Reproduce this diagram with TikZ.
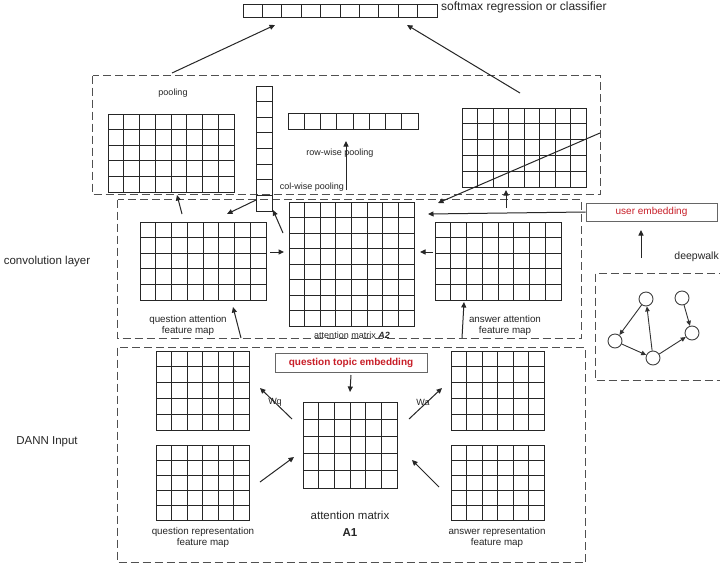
\documentclass[tikz,border=0pt]{standalone}
\usepackage{fontspec}
\setmainfont{Liberation Sans}
\usetikzlibrary{arrows.meta,calc}
\definecolor{embred}{RGB}{200,30,40}
\definecolor{dashgray}{RGB}{80,80,80}

\tikzset{
  cellline/.style={draw=black!85, line width=1.7pt, line cap=rect},
  dashbox/.style={draw=dashgray, line width=1.6pt, dash pattern=on 8pt off 4pt},
  arr/.style={draw=black!85, line width=1pt, -{Triangle[length=5.5pt,width=5pt]}},
  lbl/.style={font=\fontsize{9.8}{11}\selectfont, align=center, inner sep=0pt, text=black!85},
  poollbl/.style={font=\fontsize{9}{11}\selectfont, inner sep=0pt, text=black!85},
  biglbl/.style={font=\fontsize{11.5}{13}\selectfont, inner sep=0pt, text=black!85},
  embbox/.style={draw=black!60, line width=0.9pt, fill=white, inner sep=0pt, text=embred},
  gnode/.style={circle, draw=black!75, line width=0.9pt, minimum size=14pt, inner sep=0pt, fill=white},
  gedge/.style={draw=black!80, line width=0.9pt, -{Triangle[length=5pt,width=4.5pt]}},
}

% a matrix of cells: name, x0, y0, x1, y1, columns, rows
% every rule is placed on the middle of a device pixel so all rules look alike
\newcommand\cellgrid[7]{%
  \node[inner sep=0pt, outer sep=0pt, minimum width={(#4-#2)*1pt}, minimum height={(#5-#3)*1pt}]
    (#1) at ({(#2+#4)/2},{(#3+#5)/2}) {};
  \pgfmathsetmacro\gxa{floor(#2)+0.5}\pgfmathsetmacro\gxb{floor(#4)+0.5}%
  \pgfmathsetmacro\gya{floor(#3)+0.5}\pgfmathsetmacro\gyb{floor(#5)+0.5}%
  \foreach \k in {0,...,#6}{%
    \pgfmathsetmacro\gx{floor(#2+\k*(#4-#2)/#6)+0.5}%
    \draw[cellline] (\gx,\gya) -- (\gx,\gyb);}
  \foreach \k in {0,...,#7}{%
    \pgfmathsetmacro\gy{floor(#3+\k*(#5-#3)/#7)+0.5}%
    \draw[cellline] (\gxa,\gy) -- (\gxb,\gy);}
}

\begin{document}
\begin{tikzpicture}[x=1pt,y=-1pt]
\clip (0,0) rectangle (720,568);
\fill[white] (0,0) rectangle (720,568);

% ---------- dashed group frames ----------
\draw[dashbox] (92.5,75.5) rectangle (600.5,194.5);
\draw[dashbox] (117.5,199.5) rectangle (581.5,338.5);
\draw[dashbox] (117.5,347.5) rectangle (585.5,562.5);
\draw[dashbox] (595.5,273.5) rectangle (740,380.5);

% ---------- output layer ----------
\cellgrid{soft}{243}{4}{437}{17}{10}{1}
\node[biglbl, font=\fontsize{12}{14}\selectfont, anchor=west] (softlbl) at (441,7) {softmax regression or classifier};

% ---------- pooling ----------
\cellgrid{poolQ}{108}{114}{234}{192}{8}{5}
\cellgrid{rowpool}{288}{113}{418}{129}{8}{1}
\cellgrid{poolA}{462}{108}{586}{187}{8}{5}
\node[poollbl] (poolname) at (173,93) {pooling};
\node[poollbl] (rowlbl) at (340,153) {row-wise pooling};
\node[poollbl] (collbl) at (312,187) {col-wise pooling};

% ---------- convolution layer ----------
\cellgrid{qatt}{140}{222}{266}{300}{8}{5}
\cellgrid{Atwo}{289}{202}{414}{326}{8}{8}
\cellgrid{aatt}{435}{222}{561}{300}{8}{5}
\cellgrid{colpool}{256}{86}{272}{211}{1}{8}
\node[lbl] (qattlbl) at (188,325.5) {question attention\\feature map};
\node[lbl] (aattlbl) at (505,325.5) {answer attention\\feature map};
\node[poollbl] (atwolbl) at (352,335) {attention matrix \textbf{\textit{A2}}};

% ---------- DANN input ----------
\cellgrid{qrepU}{156}{351}{249}{430}{6}{5}
\cellgrid{qrepL}{156}{445}{249}{520}{6}{5}
\cellgrid{arepU}{451}{351}{544}{430}{6}{5}
\cellgrid{arepL}{451}{445}{544}{520}{6}{5}
\cellgrid{Aone}{303}{402}{397}{488}{6}{5}
\node[embbox, minimum width=152pt, minimum height=19pt,
      font=\fontsize{10}{12}\selectfont\bfseries] (topic) at (351,362.5) {question topic embedding};
\node[poollbl] (wq) at (275,402) {Wq};
\node[poollbl] (wa) at (423,402) {Wa};
\node[biglbl] (aonelbl) at (350,515) {attention matrix};
\node[biglbl, font=\fontsize{11.5}{13}\selectfont\bfseries] (aonename) at (350,533) {A1};
\node[lbl] (qreplbl) at (203,537.5) {question representation\\feature map};
\node[lbl] (areplbl) at (497,537.5) {answer representation\\feature map};

% ---------- side labels ----------
\node[biglbl] (convlbl) at (47,262) {convolution layer};
\node[biglbl] (dannlbl) at (47,442) {DANN Input};
\node[biglbl, font=\fontsize{10.5}{12}\selectfont, anchor=east] (dwlbl) at (719,257) {deepwalk};
\node[embbox, minimum width=131pt, minimum height=18pt,
      font=\fontsize{10}{12}\selectfont] (user) at (651.5,212) {user embedding};

% ---------- user graph ----------
\node[gnode] (g1) at (646,299) {};
\node[gnode] (g2) at (682,298) {};
\node[gnode] (g3) at (615,341) {};
\node[gnode] (g4) at (653,358) {};
\node[gnode] (g5) at (692,333) {};
\draw[gedge] (g1) -- (g3);
\draw[gedge] (g3) -- (g4);
\draw[gedge] (g4) -- (g1);
\draw[gedge] (g4) -- (g5);
\draw[gedge] (g2) -- (g5);

% ---------- connector end points ----------
\coordinate (sIn1) at (275,25);
\coordinate (sIn2) at (407,25);
\coordinate (pOut1) at (172,73);
\coordinate (pOut2) at (520,93);
\coordinate (rowFrom) at (346,190);
\coordinate (rowTo) at (346,141);
\coordinate (aUpFrom) at (506,208);
\coordinate (aUpTo) at (506,190);
\coordinate (diagFrom) at (600,133);
\coordinate (diagTo) at (438,203);
\coordinate (qUpFrom) at (182,214);
\coordinate (qUpTo) at (177,195);
\coordinate (colFrom) at (256,200);
\coordinate (colTo) at (227,214);
\coordinate (aToColFrom) at (283,233);
\coordinate (aToColTo) at (273,210);
\coordinate (qToA2From) at (270,252);
\coordinate (qToA2To) at (284,252);
\coordinate (aToA2From) at (433,252);
\coordinate (aToA2To) at (420,252);
\coordinate (dqFrom) at (241,338);
\coordinate (dqTo) at (233,307);
\coordinate (daFrom) at (462,338);
\coordinate (daTo) at (464,302);
\coordinate (userTo) at (428,214);
\coordinate (dwFrom) at (641,258);
\coordinate (dwTo) at (641,230);
\coordinate (topicTo) at (350,392);
\coordinate (wqFrom) at (292,419);
\coordinate (wqTo) at (260,388);
\coordinate (waFrom) at (409,419);
\coordinate (waTo) at (442,388);
\coordinate (qlFrom) at (260,482);
\coordinate (qlTo) at (294,457);
\coordinate (alFrom) at (439,487);
\coordinate (alTo) at (412,460);

% ---------- connectors ----------
\draw[arr] (pOut1) -- (sIn1);
\draw[arr] (pOut2) -- (sIn2);
\draw[arr] (rowFrom) -- (rowTo);
\draw[arr] (aUpFrom) -- (aUpTo);
\draw[arr] (diagFrom) -- (diagTo);
\draw[arr] (qUpFrom) -- (qUpTo);
\draw[arr] (colFrom) -- (colTo);
\draw[arr] (aToColFrom) -- (aToColTo);
\draw[arr] (qToA2From) -- (qToA2To);
\draw[arr] (aToA2From) -- (aToA2To);
\draw[arr] (dqFrom) -- (dqTo);
\draw[arr] (daFrom) -- (daTo);
\draw[arr] (user.west) -- (userTo);
\draw[arr] (dwFrom) -- (dwTo);
\draw[arr] (topic.south |- 0,375) -- (topicTo);
\draw[arr] (wqFrom) -- (wqTo);
\draw[arr] (waFrom) -- (waTo);
\draw[arr] (qlFrom) -- (qlTo);
\draw[arr] (alFrom) -- (alTo);
\end{tikzpicture}
\end{document}
